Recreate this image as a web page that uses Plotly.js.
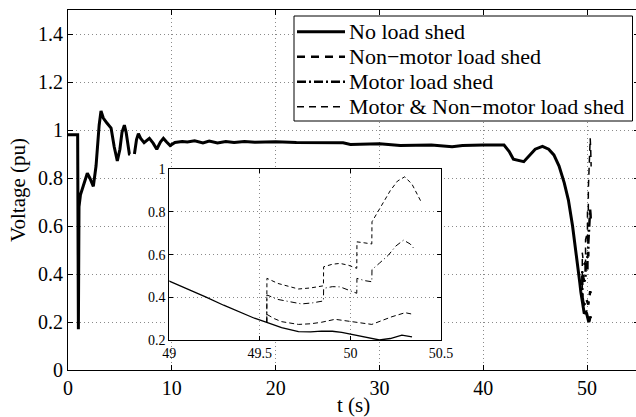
<!DOCTYPE html>
<html>
<head>
<meta charset="utf-8">
<script src="https://cdn.plot.ly/plotly-3.0.1.min.js"></script>
<style>
html,body{margin:0;padding:0;overflow:hidden;background:#fff;width:636px;height:417px;}
#chart{width:640px;height:417px;}
</style>
</head>
<body>
<div id="chart"></div>
<script>
// ---- data ----
var seriesNames = ['No load shed', 'Non\u2212motor load shed', 'Motor load shed', 'Motor & Non\u2212motor load shed'];

var tNoShed = [0, 0.9, 0.93, 1.0, 1.06, 1.2, 1.5, 1.86, 2.1, 2.44, 2.7, 3.0, 3.18, 3.4, 3.73, 4.15, 4.45, 4.75, 5.0, 5.2, 5.43, 5.6, 5.91, 5.98, null,
  6.4, 6.6, 6.78, 7.0, 7.33, 7.84, 8.2, 8.55, 8.9, 9.19, 9.5, 9.84, 10.3, 11.0, 11.5, 12.2, 13.0, 13.6, 14.4, 15.2, 16, 17, 18, 20, 22, 25, 26.5, 27.2,
  29, 30, 32, 34, 35, 37, 38, 40, 42, 42.5, 42.9, 43.9, 44.5, 45.0, 45.7, 46.3, 46.8, 47.3, 47.8, 48.2, 48.6, 49.0,
  49.1, 49.2, 49.3, 49.4, 49.47, 49.538, 49.62, 49.713, 49.78, 49.84, 49.9, 49.952, 50.03, 50.118, 50.16, 50.22, 50.284, 50.34];
var vNoShed = [0.98, 0.98, 0.98, 0.17, 0.68, 0.73, 0.77, 0.82, 0.80, 0.765, 0.85, 1.02, 1.079, 1.05, 1.03, 1.008, 0.93, 0.871, 0.92, 0.99, 1.02, 0.99, 0.90, 0.90, null,
  0.90, 0.96, 0.985, 0.965, 0.947, 0.965, 0.945, 0.92, 0.95, 0.965, 0.95, 0.935, 0.948, 0.952, 0.95, 0.955, 0.946, 0.954, 0.946, 0.952, 0.948, 0.952, 0.949, 0.951, 0.948, 0.947, 0.947, 0.94,
  0.94, 0.943, 0.935, 0.935, 0.937, 0.93, 0.935, 0.937, 0.937, 0.91, 0.878, 0.868, 0.895, 0.92, 0.932, 0.92, 0.896, 0.85, 0.78, 0.708, 0.6, 0.476,
  0.44, 0.402, 0.363, 0.325, 0.302, 0.283, 0.258, 0.239, 0.238, 0.242, 0.241, 0.236, 0.222, 0.205, 0.2, 0.207, 0.223, 0.215];

var tNonMotor = [49.538, 49.539, 49.58, 49.62, 49.713, 49.78, 49.84, 49.915, 50.008, 50.06, 50.118, 50.17, 50.229, 50.302, 50.348];
var vNonMotor = [0.283, 0.32, 0.30, 0.286, 0.273, 0.276, 0.283, 0.297, 0.286, 0.28, 0.273, 0.29, 0.309, 0.328, 0.32];

var tMotor = [49.538, 49.539, 49.6, 49.73, 49.79, 49.851, 49.852, 49.9, 49.943, 50.0, 50.035, 50.036, 50.08, 50.118, 50.119, 50.16, 50.21, 50.25, 50.293, 50.33, 50.357];
var vMotor = [0.283, 0.411, 0.39, 0.369, 0.374, 0.383, 0.442, 0.45, 0.449, 0.43, 0.419, 0.489, 0.478, 0.473, 0.53, 0.56, 0.598, 0.64, 0.668, 0.65, 0.622];

var tBoth = [49.538, 49.539, 49.6, 49.713, 49.78, 49.851, 49.852, 49.9, 49.943, 49.99, 50.035, 50.036, 50.08, 50.118, 50.119, 50.17, 50.22, 50.26, 50.3, 50.34, 50.39];
var vBoth = [0.283, 0.489, 0.465, 0.439, 0.444, 0.454, 0.543, 0.555, 0.559, 0.55, 0.536, 0.66, 0.655, 0.65, 0.754, 0.83, 0.9, 0.945, 0.965, 0.93, 0.848];

var mainXTicks = [0, 10, 20, 30, 40, 50];
var mainYTicks = [0, 0.2, 0.4, 0.6, 0.8, 1, 1.2, 1.4];
var insetXTicks = [49, 49.5, 50, 50.5];
var insetYTicks = [0.2, 0.4, 0.6, 0.8, 1];

// ---- styling ----
var FONT = 'Liberation Serif';
var W = 640, H = 417, ML = 68, MR = 1, MT = 10, MB = 47;
var PW = W - ML - MR, PH = H - MT - MB;
function px2x(p) { return (p - ML) / PW; }
function py2y(p) { return (H - MB - p) / PH; }

var mainStyles = [
  {width: 3, dash: 'solid'},
  {width: 2.5, dash: '8px,6px'},
  {width: 2.5, dash: '9px,3px,2px,3px'},
  {width: 1.5, dash: '7px,5px'}
];
var insetStyles = [
  {width: 1.3, dash: 'solid'},
  {width: 1, dash: '5px,3px'},
  {width: 1, dash: '6px,3px,1px,3px'},
  {width: 1, dash: '4px,3px'}
];
var xs = [tNoShed, tNonMotor, tMotor, tBoth];
var ys = [vNoShed, vNonMotor, vMotor, vBoth];

var traces = [];
for (var i = 0; i < 4; i++) {
  traces.push({x: xs[i], y: ys[i], type: 'scatter', mode: 'lines', name: seriesNames[i],
    line: {color: '#000', width: mainStyles[i].width, dash: mainStyles[i].dash},
    connectgaps: false, showlegend: false, xaxis: 'x', yaxis: 'y', hoverinfo: 'skip'});
}
for (var j = 0; j < 4; j++) {
  traces.push({x: xs[j], y: ys[j], type: 'scatter', mode: 'lines', name: seriesNames[j],
    line: {color: '#000', width: insetStyles[j].width, dash: insetStyles[j].dash},
    connectgaps: false, showlegend: false, xaxis: 'x2', yaxis: 'y2', hoverinfo: 'skip'});
}

// manual legend (box, sample lines, labels)
var legRowY = [31.7, 56.7, 81.7, 106.7];
var shapes = [{type: 'rect', xref: 'paper', yref: 'paper', x0: px2x(294), x1: px2x(632.5), y0: py2y(121), y1: py2y(16),
  line: {color: '#000', width: 1}, fillcolor: '#fff', layer: 'above'}];
var annotations = [];
for (var k = 0; k < 4; k++) {
  shapes.push({type: 'line', xref: 'paper', yref: 'paper', x0: px2x(297), x1: px2x(345), y0: py2y(legRowY[k]), y1: py2y(legRowY[k]),
    line: {color: '#000', width: mainStyles[k].width, dash: mainStyles[k].dash}, layer: 'above'});
  annotations.push({xref: 'paper', yref: 'paper', x: px2x(347), y: py2y(legRowY[k]), xanchor: 'left', yanchor: 'middle',
    text: seriesNames[k], showarrow: false, font: {family: FONT, size: 22, color: '#000'}});
}

var gridCommon = {showgrid: true, gridcolor: '#8a8a8a', gridwidth: 1, griddash: '1px,3px', zeroline: false,
  showline: true, linecolor: '#000', linewidth: 1, ticks: 'inside', ticklen: 5, tickcolor: '#000', mirror: 'ticks'};

var layout = {
  width: W, height: H,
  margin: {l: ML, r: MR, t: MT, b: MB, pad: 0},
  paper_bgcolor: '#fff', plot_bgcolor: '#fff',
  font: {family: FONT, color: '#000'},
  showlegend: false,
  xaxis: Object.assign({}, gridCommon, {range: [0, 55], tickvals: mainXTicks, ticktext: mainXTicks.map(String),
    tickfont: {family: FONT, size: 20}, title: {text: 't (s)', font: {family: FONT, size: 21}, standoff: 4}, anchor: 'y'}),
  yaxis: Object.assign({}, gridCommon, {range: [0, 1.5], tickvals: mainYTicks, ticktext: mainYTicks.map(String),
    tickfont: {family: FONT, size: 20}, title: {text: 'Voltage (pu)', font: {family: FONT, size: 21}, standoff: 6}, anchor: 'x'}),
  xaxis2: Object.assign({}, gridCommon, {domain: [px2x(169.3), px2x(441)], anchor: 'y2', range: [49, 50.5],
    tickvals: insetXTicks, ticktext: insetXTicks.map(String), tickfont: {family: FONT, size: 14}, ticklen: 4}),
  yaxis2: Object.assign({}, gridCommon, {domain: [py2y(340), py2y(169.3)], anchor: 'x2', range: [0.2, 1],
    tickvals: insetYTicks, ticktext: insetYTicks.map(String), tickfont: {family: FONT, size: 14}, ticklen: 4}),
  shapes: shapes,
  annotations: annotations
};

Plotly.newPlot('chart', traces, layout, {staticPlot: true, displayModeBar: false});
</script>
</body>
</html>
